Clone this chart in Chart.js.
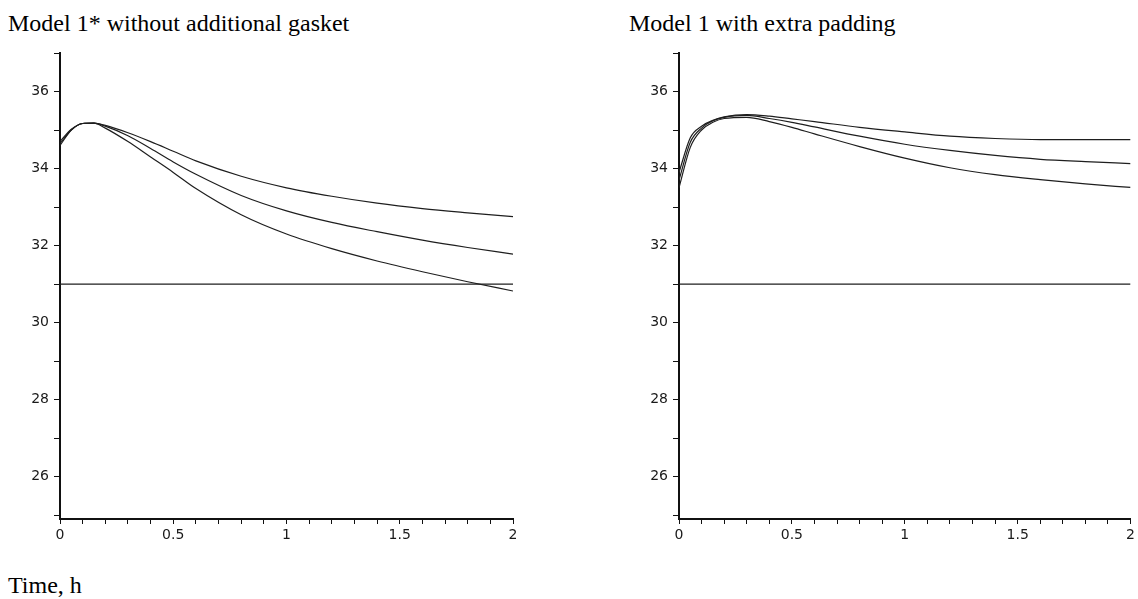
<!DOCTYPE html>
<html>
<head>
<meta charset="utf-8">
<title>Temperature vs time</title>
<script src="https://cdn.jsdelivr.net/npm/chart.js@4.4.1/dist/chart.umd.min.js"></script>
<style>
  body { margin: 0; background: #fff; width: 1138px; height: 599px; position: relative; overflow: hidden;
         font-family: "Liberation Serif", "Times New Roman", serif; }
  .caption { position: absolute; font-size: 24px; line-height: 1; color: #000; white-space: nowrap; }
  .panel { position: absolute; top: 0; height: 560px; }
</style>
</head>
<body>
<div class="caption" style="left:8px; top:11px">Model 1* without additional gasket</div>
<div class="caption" style="left:629px; top:11px">Model 1 with extra padding</div>
<div class="caption" style="left:8px; top:573px">Time, h</div>

<div class="panel" style="left:0; width:560px"><canvas id="gasketChart"></canvas></div>
<div class="panel" style="left:560px; width:578px"><canvas id="paddingChart"></canvas></div>

<script>
// sample times, h
const hours = [0, 0.05, 0.1, 0.15, 0.2, 0.3, 0.4, 0.5, 0.6, 0.8, 1.0, 1.2, 1.4, 1.6, 1.8, 2.0];

// model 1* (no extra gasket) - three temperature curves
const gasketUpper  = [34.70, 35.02, 35.17, 35.18, 35.12, 34.93, 34.70, 34.45, 34.20, 33.80, 33.50, 33.28, 33.10, 32.96, 32.85, 32.75];
const gasketMiddle = [34.65, 35.00, 35.17, 35.18, 35.10, 34.85, 34.52, 34.17, 33.85, 33.30, 32.90, 32.60, 32.36, 32.14, 31.95, 31.78];
const gasketLower  = [34.60, 35.00, 35.17, 35.18, 35.05, 34.70, 34.30, 33.90, 33.48, 32.80, 32.30, 31.92, 31.60, 31.32, 31.06, 30.82];

// model 1 with extra padding
const paddingUpper  = [33.90, 34.80, 35.10, 35.25, 35.34, 35.40, 35.36, 35.29, 35.22, 35.07, 34.95, 34.84, 34.78, 34.75, 34.75, 34.75];
const paddingMiddle = [33.70, 34.68, 35.05, 35.24, 35.33, 35.38, 35.30, 35.20, 35.08, 34.84, 34.63, 34.47, 34.34, 34.24, 34.18, 34.13];
const paddingLower  = [33.50, 34.55, 35.00, 35.20, 35.30, 35.33, 35.22, 35.07, 34.90, 34.57, 34.27, 34.02, 33.84, 33.71, 33.60, 33.51];

// reference level
const refTimes = [0, 2];
const refLevel = [31, 31];

const yTicks = { min: 24.9, max: 37, step: 1 };
const xTicks = { min: 0, max: 2, step: 0.1 };

const tickFont = { family: "DejaVu Sans", size: 14 };

function curve(values, times, smooth) {
  return {
    data: values.map((v, i) => ({ x: times[i], y: v })),
    borderColor: "#1e1e1e",
    borderWidth: 1.2,
    pointRadius: 0,
    fill: false,
    tension: smooth ? 0.4 : 0,
    cubicInterpolationMode: smooth ? "monotone" : "default"
  };
}

function buildChart(id, series, axisWidth, rightPad) {
  const datasets = series.map(s => curve(s, hours, true));
  datasets.push(curve(refLevel, refTimes, false));

  return new Chart(document.getElementById(id), {
    type: "line",
    data: { datasets },
    options: {
      responsive: true,
      maintainAspectRatio: false,
      animation: false,
      layout: { padding: { top: 53, right: rightPad, bottom: 0, left: 0 } },
      plugins: { legend: { display: false }, tooltip: { enabled: false } },
      scales: {
        x: {
          type: "linear",
          min: xTicks.min,
          max: xTicks.max,
          border: { display: true, color: "#111", width: 2 },
          grid: { drawOnChartArea: false, drawTicks: true, tickLength: 5, tickColor: "#111" },
          ticks: {
            stepSize: xTicks.step,
            autoSkip: false,
            maxRotation: 0,
            includeBounds: false,
            padding: 3,
            color: "#1a1a1a",
            font: tickFont,
            callback: v => Math.abs(v * 2 - Math.round(v * 2)) < 1e-6 ? String(+v.toFixed(1)) : ""
          },
          afterFit: s => { s.height = 41; }
        },
        y: {
          min: yTicks.min,
          max: yTicks.max,
          border: { display: true, color: "#111", width: 2 },
          grid: { drawOnChartArea: false, drawTicks: true, tickLength: 6, tickColor: "#111" },
          ticks: {
            stepSize: yTicks.step,
            includeBounds: false,
            padding: 5,
            color: "#1a1a1a",
            font: tickFont,
            callback: v => (Math.round(v) % 2 === 0 ? String(Math.round(v)) : "")
          },
          afterFit: s => { s.width = axisWidth; }
        }
      }
    }
  });
}

buildChart("gasketChart", [gasketUpper, gasketMiddle, gasketLower], 60, 47);
buildChart("paddingChart", [paddingUpper, paddingMiddle, paddingLower], 119, 7);
</script>
</body>
</html>
